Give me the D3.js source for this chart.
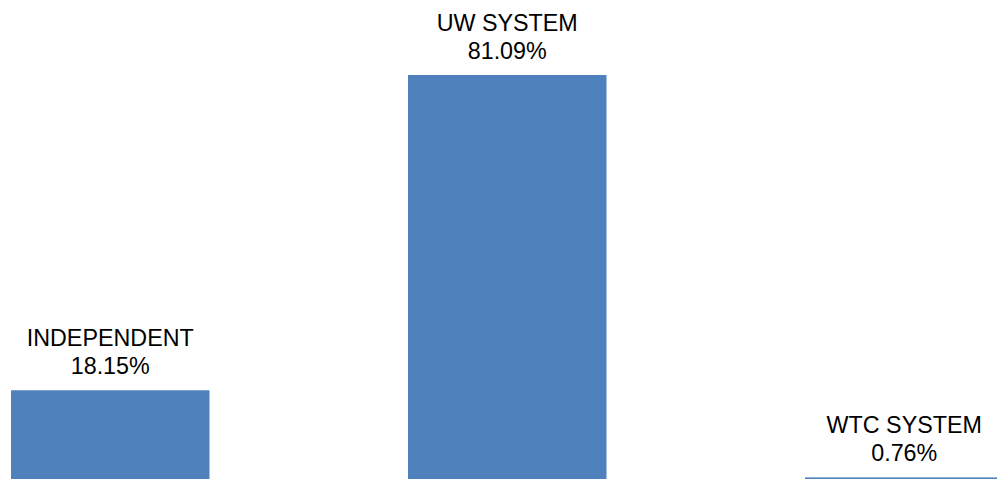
<!DOCTYPE html>
<html>
<head>
<meta charset="utf-8">
<script src="https://cdn.jsdelivr.net/npm/d3@7"></script>
<style>
  html, body { margin: 0; padding: 0; background: #fff; }
  svg { display: block; }
</style>
</head>
<body>
<svg id="chart" width="997" height="479"></svg>
<script>
const categories = ["INDEPENDENT", "UW SYSTEM", "WTC SYSTEM"];
const values = [18.15, 81.09, 0.76];
const valueLabels = ["18.15%", "81.09%", "0.76%"];

const svg = d3.select("#chart");
const x = d3.scaleBand().domain(categories).range([-187.5, 1202]).paddingInner(0.5).paddingOuter(0.5);
const y = d3.scaleLinear().domain([0, 81.09]).range([481.2, 75]);

svg.selectAll("rect.bar").data(categories).join("rect")
  .attr("class", "bar")
  .attr("x", d => x(d))
  .attr("width", x.bandwidth())
  .attr("y", (d, i) => y(values[i]))
  .attr("height", (d, i) => y(0) - y(values[i]))
  .attr("fill", "#4F81BD");

const lab = svg.selectAll("g.lab").data(categories).join("g").attr("class", "lab");
lab.append("text")
  .attr("x", d => x(d) + x.bandwidth() / 2)
  .attr("y", (d, i) => y(values[i]) - 16 - 28)
  .attr("text-anchor", "middle")
  .style("font-family", "Liberation Sans, Arial, sans-serif")
  .style("font-size", "23.3px")
  .attr("fill", "#000")
  .text(d => d);
lab.append("text")
  .attr("x", d => x(d) + x.bandwidth() / 2)
  .attr("y", (d, i) => y(values[i]) - 16)
  .attr("text-anchor", "middle")
  .style("font-family", "Liberation Sans, Arial, sans-serif")
  .style("font-size", "23.3px")
  .attr("fill", "#000")
  .text((d, i) => valueLabels[i]);
</script>
</body>
</html>
